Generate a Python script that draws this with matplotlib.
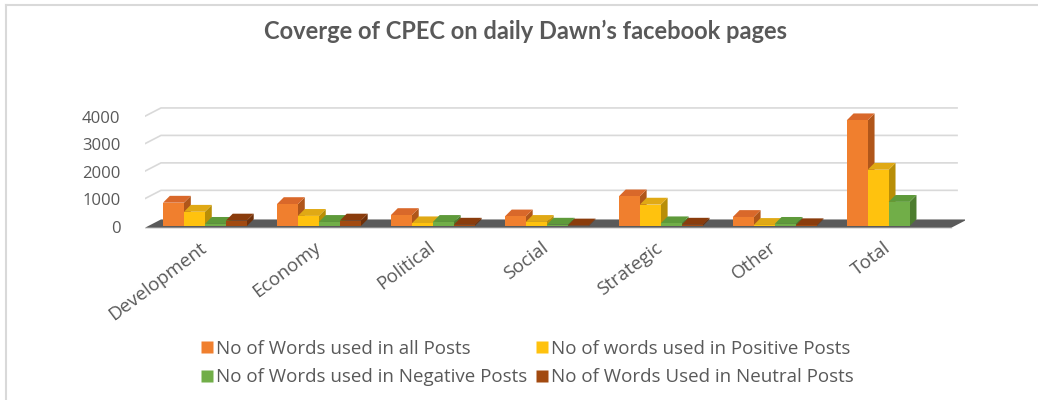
import numpy as np
import matplotlib
matplotlib.use('Agg')
import matplotlib.pyplot as plt
from matplotlib.patches import Polygon, Rectangle
from matplotlib.lines import Line2D

# dados
categorias = ['Development', 'Economy', 'Political', 'Social', 'Strategic', 'Other', 'Total']
todos = [850, 800, 400, 350, 1080, 330, 3850]
positivos = [520, 370, 100, 150, 780, 40, 2050]
negativos = [80, 150, 150, 50, 100, 80, 880]
neutros = [200, 200, 50, 20, 50, 30, 0]
series = [todos, positivos, negativos, neutros]
nomes = ['No of Words used in all Posts', 'No of words used in Positive Posts',
         'No of Words used in Negative Posts', 'No of Words Used in Neutral Posts']
cor_frente = ['#F07F2E', '#FFC20E', '#71AE48', '#A24A10']
cor_lado = ['#B0561A', '#B88E07', '#4D7D2F', '#6E300A']
cor_topo = ['#D9682A', '#E0A915', '#5E9A3A', '#8A3C0C']
yticks = [0, 1000, 2000, 3000, 4000]

fig = plt.figure(figsize=(10.38, 4.0), dpi=100)
ax = fig.add_axes([0.1397, 0.428, 0.79, 0.309])
ax.set_xlim(-0.526, 6.67)
ax.set_ylim(-100, 4400)
ax.axis('off')

larg = 0.184
dx, dy = 0.06, 250      # profundidade das barras
wx, wy = 0.14, 300      # profundidade da parede/chao
x0, x1 = -0.526, 6.55

# grade na parede do fundo
for v in yticks[1:]:
    ax.plot([x0, x0 + wx, 6.6], [v, v + wy, v + wy], color='#d9d9d9', lw=1.2, zorder=1)

# chao
ax.add_patch(Polygon([[x0, -60], [x1, -60], [x1 + wx, wy - 60], [x0 + wx, wy - 60]],
                     closed=True, fc='#5a5a5a', ec='none', zorder=2))
ax.plot([x0, x1], [-80, -80], color='#e0e0e0', lw=1, zorder=1)

x = np.arange(len(categorias))
for i, (vals, cf, cl, ct) in enumerate(zip(series, cor_frente, cor_lado, cor_topo)):
    for j, v in enumerate(vals):
        if v <= 0:
            continue
        xl = x[j] + (i - 2) * larg
        z = 3 + j * 10 + i
        ax.add_patch(Polygon([[xl + larg, 0], [xl + larg + dx, dy], [xl + larg + dx, v + dy], [xl + larg, v]],
                             closed=True, fc=cl, ec='none', zorder=z))
        ax.add_patch(Polygon([[xl, v], [xl + larg, v], [xl + larg + dx, v + dy], [xl + dx, v + dy]],
                             closed=True, fc=ct, ec='none', zorder=z))
        ax.add_patch(Rectangle((xl, 0), larg, v, fc=cf, ec='none', zorder=z + 0.5))

# rotulos do eixo y
for v in yticks:
    ax.text(-0.74, v - 100, str(v), ha='right', va='center', fontsize=12, color='#595959',
            family='Open Sans')

# rotulos das categorias
for j, c in enumerate(categorias):
    ax.text(x[j] - 0.05, -450, c, rotation=37, ha='right', va='top', rotation_mode='anchor',
            fontsize=13.5, color='#595959', family='Open Sans')

fig.text(0.506, 0.922, 'Coverge of CPEC on daily Dawn\u2019s facebook pages', ha='center', va='center',
         fontsize=17, fontweight='bold', color='#595959', family='Lato')

handles = [Line2D([], [], marker='s', ls='none', markersize=8, markerfacecolor=c, markeredgecolor='none')
           for c in cor_frente]
ordem = [0, 2, 1, 3]   # legenda preenche por coluna
leg = fig.legend([handles[k] for k in ordem], [nomes[k] for k in ordem], ncol=2, loc='center',
                 bbox_to_anchor=(0.507, 0.0925), frameon=False,
                 prop={'family': 'Open Sans', 'size': 13.5}, labelcolor='#595959',
                 handletextpad=0.05, columnspacing=0.3, handlelength=0.9, labelspacing=0.55)

# moldura
fig.add_artist(Line2D([0.006, 1.0], [0.987, 0.987], color='#d9d9d9', lw=1.5))
fig.add_artist(Line2D([0.006, 0.006], [0.0, 0.987], color='#d9d9d9', lw=1.5))

fig.savefig('out.png', dpi=100)
